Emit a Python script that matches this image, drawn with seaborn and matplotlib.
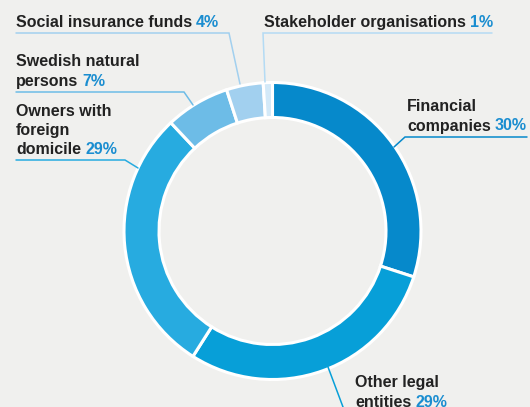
import matplotlib
matplotlib.use("Agg")
import matplotlib.pyplot as plt
import seaborn as sns

# shareholder categories, clockwise from 12 o'clock
categories = ["Financial companies", "Other legal entities", "Owners with foreign domicile",
              "Swedish natural persons", "Social insurance funds", "Stakeholder organisations"]
shares = [30, 29, 29, 7, 4, 1]
label_lines = [["Financial", "companies"], ["Other legal", "entities"],
               ["Owners with", "foreign", "domicile"], ["Swedish natural", "persons"],
               ["Social insurance funds"], ["Stakeholder organisations"]]
colors = ["#0689cb", "#079fd8", "#27abe0", "#6dbce7", "#a2d0ef", "#d3e9f8"]
line_colors = ["#0689cb", "#079fd8", "#27abe0", "#6dbce7", "#a2d0ef", "#b4dbf4"]

W, H = 530, 407
BG = "#f0f0ee"
PCT = "#1a8dd0"

sns.set_style("white", {"axes.facecolor": BG, "figure.facecolor": BG})
plt.rcParams["font.family"] = ["Liberation Sans", "DejaVu Sans"]

fig = plt.figure(figsize=(W / 100, H / 100), dpi=100)
ax = fig.add_axes([0, 0, 1, 1])
palette = sns.color_palette(colors)

cx, cy, r = 272.5, 231, 148.5
ax.pie(shares, colors=palette, startangle=90, counterclock=False, radius=r,
       center=(cx, H - cy), wedgeprops=dict(width=35, edgecolor="white", linewidth=2.2))
ax.set_xlim(0, W)
ax.set_ylim(0, H)
ax.set_aspect("equal")
ax.axis("off")

def Y(y):
    return H - y

# label anchor: x, baseline of first line, line spacing; leader points in pixel coords
label_pos = [(407, 111, 19.5), (355, 387.5, 19.5), (16, 116.5, 19),
             (16, 66.5, 19.5), (16, 27, 0), (264, 27, 0)]
leaders = [[(527, 137), (405, 137), (394, 147)],
           [(328, 367), (346, 415)],
           [(16, 160), (125, 160), (138, 168)],
           [(16, 92), (184, 92), (193, 105)],
           [(16, 33), (229, 33), (240, 84)],
           [(492, 33), (263, 33), (265, 82)]]

fs = 11.5
renderer = fig.canvas.get_renderer()
for lines, share, (x, y0, dy), pts, col in zip(label_lines, shares, label_pos, leaders, line_colors):
    for i, line in enumerate(lines):
        t = ax.text(x, Y(y0 + i * dy), line, fontsize=fs, fontweight="bold",
                    color="#222222", va="baseline", ha="left")
    bb = t.get_window_extent(renderer)
    ax.text(bb.x1 + 4, Y(y0 + (len(lines) - 1) * dy), f"{share}%", fontsize=fs,
            fontweight="bold", color=PCT, va="baseline", ha="left")
    ax.plot([p[0] for p in pts], [Y(p[1]) for p in pts], color=col, lw=1.1,
            solid_joinstyle="miter")

fig.savefig("out.png", dpi=100, facecolor=BG)
